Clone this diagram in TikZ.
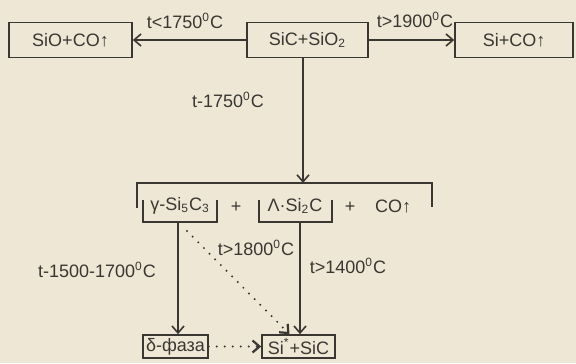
\documentclass[tikz,border=0pt]{standalone}
\usepackage{fontspec}
\setmainfont{Liberation Sans}
\usepackage{tikz}
\usetikzlibrary{arrows.meta,calc,positioning}
\definecolor{paper}{HTML}{EEE7D6}
\definecolor{ink}{HTML}{3A3631}
\newcommand{\dg}{\textsuperscript{0}C}

\begin{document}
\begin{tikzpicture}[x=0.5pt,y=-0.5pt,font=\fontsize{9}{11}\selectfont,
    box/.style={draw=ink,line width=0.8pt,inner sep=0pt,minimum height=17.5pt,text=ink},
    txt/.style={inner sep=0pt,text=ink},
    arr/.style={ink,line width=0.8pt,-{Straight Barb[length=3.5pt,width=6pt]}},
    dotarr/.style={arr,line width=1.1pt,line cap=round,dash pattern=on 0pt off 4pt},
    brk/.style={ink,line width=0.8pt}]
    \fill[paper] (0,0) rectangle (576,363);
    \useasboundingbox (0,0) rectangle (576,363);
    % top row
    \node[box,minimum width=61.5pt] (sio) at (70.5,40) {SiO+CO↑};
    \node[box,minimum width=60.5pt] (sic) at (307.5,40) {SiC+SiO\textsubscript{2}};
    \node[box,minimum width=59pt] (sico) at (514,40) {Si+CO↑};
    \draw[arr] (sic) -- (sio);
    \draw[arr] (sic) -- (sico);
    \node[txt] (lowt) at (185,21) {t<1750\dg};
    \node[txt] (hight) at (415,20) {t>1900\dg};
    \node[txt] (midt) at (228,100) {t-1750\dg};
    % mixture
    \coordinate (mix) at (303,183);
    \draw[arr] (sic.south -| mix) -- (mix);
    \draw[brk] (137,208) -- (137,183) -- (432,183) -- (432,207);
    \node[txt] (gam) at (180,206) {γ-Si\textsubscript{5}C\textsubscript{3}};
    \node[txt] (plus1) at (236,207) {+};
    \node[txt] (lam) at (295,206) {Λ·Si\textsubscript{2}C};
    \node[txt] (plus2) at (350,207) {+};
    \node[txt] (co) at (393,206) {CO↑};
    \draw[brk] (143,200) |- (217,222) -- (217,200);
    \draw[brk] (259,200) |- (332,222) -- (332,200);
    \coordinate (gamb) at (178,222);
    \coordinate (lamb) at (300,222);
    \coordinate (gamd) at (187,231);
    % bottom row
    \node[box,minimum width=32.5pt,minimum height=11.5pt] (delta) at (175.5,346.5) {δ-фаза};
    \node[box,minimum width=36.5pt,minimum height=11.5pt] (sisic) at (298.5,346.5) {Si\textsuperscript{*}+SiC};
    \draw[arr] (gamb) -- (gamb |- delta.north);
    \draw[arr] (lamb) -- (lamb |- sisic.north);
    \draw[dotarr] (gamd) -- ($(sisic.north)+(-9,0)$);
    \draw[dotarr] (delta.east) -- (sisic.west);
    \node[txt] (t1800) at (256,248) {t>1800\dg};
    \node[txt] (t1400) at (348,266) {t>1400\dg};
    \node[txt] (t1500) at (97,270) {t-1500-1700\dg};
\end{tikzpicture}
\end{document}
